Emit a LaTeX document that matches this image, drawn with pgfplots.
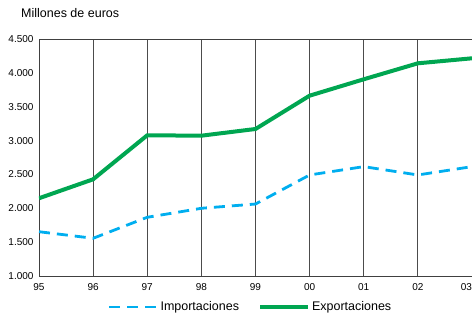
\documentclass[border=0pt]{standalone}
\usepackage{pgfplots}
\pgfplotsset{compat=1.18}
\usepackage{fontspec}
\setmainfont{Liberation Sans}
\definecolor{expgreen}{HTML}{00A651}
\definecolor{impcyan}{HTML}{00AEEF}
\begin{document}
\begin{tikzpicture}
\useasboundingbox (-39pt,-37pt) rectangle (433pt,276pt);
\node[anchor=base west, inner sep=0pt, font=\fontsize{12.5}{14}\selectfont] at (-18pt,258.5pt) {Millones de euros};
\begin{axis}[
  scale only axis, width=433pt, height=237pt,
  xmin=0, xmax=8, ymin=1000, ymax=4500,
  xtick={0,...,8},
  xticklabels={95,96,97,98,99,00,01,02,{\makebox[0pt][r]{03}}},
  ytick={1000,1500,...,4500},
  scaled y ticks=false,
  /pgf/number format/1000 sep={.},
  /pgf/number format/assume math mode=true,
  xmajorgrids,
  grid style={black!70, line width=0.8pt},
  major tick length=0pt,
  axis line style={black!75, line width=0.8pt},
  tick label style={font=\fontsize{10}{12}\selectfont},
  xticklabel style={yshift=-4pt},
  yticklabel style={xshift=-2pt},
  legend columns=2,
  legend style={at={(0.5,0)}, anchor=center, yshift=-31pt, xshift=-5pt, draw=none, fill=none,
    font=\fontsize{12.5}{14}\selectfont,
    /tikz/every even column/.append style={column sep=17pt}},
  legend image code/.code={\draw[#1] (0pt,0pt) -- (48pt,0pt);},
]
\addplot[impcyan, line width=2.8pt, dash pattern=on 11pt off 7pt] coordinates {
  (0,1654) (1,1557) (2,1867) (3,2000) (4,2063) (5,2492) (6,2615) (7,2492) (8,2615)};
\addlegendentry{Importaciones}
\addplot[expgreen, line width=4pt] coordinates {
  (0,2148) (1,2428) (2,3078) (3,3072) (4,3171) (5,3663) (6,3905) (7,4141) (8,4215)};
\addlegendentry{Exportaciones}
\end{axis}
\end{tikzpicture}
\end{document}
